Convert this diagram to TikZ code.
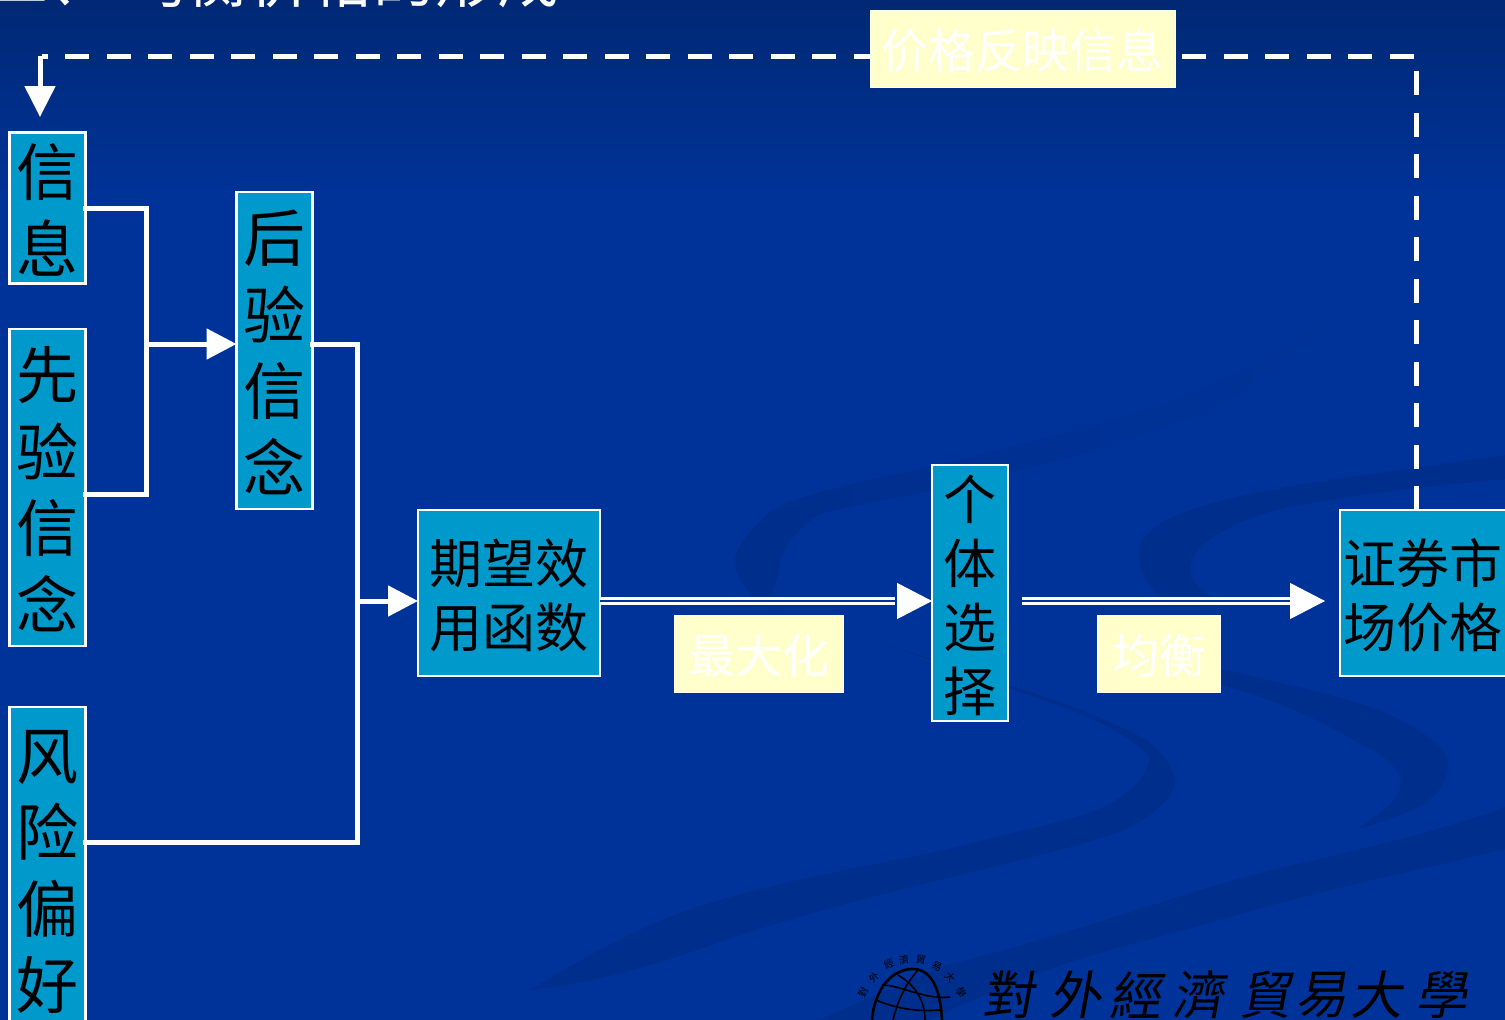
\documentclass[tikz,border=0pt]{standalone}
\usepackage{fontspec}
\setmainfont{Noto Sans CJK SC}
\newfontfamily\tcfont{Noto Sans CJK TC}
\usetikzlibrary{arrows.meta,fadings}
\definecolor{bgtop}{HTML}{002874}
\definecolor{bgmid}{HTML}{003399}
\definecolor{swoosh}{HTML}{002E8C}
\definecolor{boxblue}{HTML}{0099CC}
\definecolor{cream}{HTML}{FFFFCC}
\tikzset{
  box/.style={draw=white,line width=2.6pt,outer sep=0pt,fill=boxblue,text=black,inner sep=0pt,align=center,anchor=north west},
  bigtext/.style={font=\fontsize{62}{76.5}\selectfont,text depth=-7pt},
  midtext/.style={font=\fontsize{53}{64}\selectfont,text depth=-7pt},
  tag/.style={draw=white,line width=1pt,outer sep=0pt,fill=cream,text=white,inner sep=0pt,anchor=north west,font=\fontsize{47}{50}\selectfont,text depth=-7pt},
  link/.style={draw=white,line width=5pt},
  dashlink/.style={draw=white,line width=5pt,dash pattern=on 24pt off 17.5pt},
  head/.style={-{Triangle[length=30pt,width=30pt]}},
  dbl/.style={draw=white,line width=2.7pt,double=bgmid,double distance=2.7pt},
  bighead/.style={draw=white,fill=white,line width=1pt,-{Triangle[length=35pt,width=36pt]}},
  logochar/.style={text=black,inner sep=0pt,font=\tcfont\fontsize{52}{52}\selectfont,xslant=0.18},
  ringchar/.style={text=black,inner sep=0pt,font=\tcfont\fontsize{10}{10}\selectfont}
}
\begin{document}
\begin{tikzpicture}[x=1pt,y=-1pt]
\useasboundingbox (0,0) rectangle (1505,1020);
\clip (0,0) rectangle (1505,1020);
\fill[bgmid] (0,0) rectangle (1505,1020);
\shade[top color=bgtop,bottom color=bgmid] (0,0) rectangle (1505,200);
% background swooshes
\fill[swoosh,path fading=east] (1345,290) .. controls (1290,380) and (1100,425) .. (931,467) .. controls (840,485) and (780,500) .. (767,515) .. controls (745,535) and (730,555) .. (736,570) .. controls (745,590) and (755,600) .. (767,605) .. controls (775,590) and (775,585) .. (780,570) .. controls (780,545) and (800,530) .. (818,515) .. controls (850,505) and (890,500) .. (931,491) .. controls (1110,450) and (1290,410) .. (1345,290) -- cycle;
\fill[swoosh] (1505,455) .. controls (1400,470) and (1320,480) .. (1265,491) .. controls (1220,500) and (1185,510) .. (1162,522) .. controls (1145,535) and (1135,545) .. (1139,558) .. controls (1140,575) and (1150,590) .. (1165,600) -- (1213,598) .. controls (1195,585) and (1185,575) .. (1193,558) .. controls (1205,535) and (1250,515) .. (1290,507) .. controls (1380,490) and (1450,485) .. (1505,479) -- cycle;
\fill[swoosh] (1221,669) .. controls (1290,685) and (1360,700) .. (1393,716) .. controls (1430,735) and (1450,750) .. (1448,768) .. controls (1445,790) and (1430,800) .. (1419,807) .. controls (1400,815) and (1375,825) .. (1357,829) .. controls (1385,810) and (1400,800) .. (1401,783) .. controls (1400,770) and (1385,755) .. (1367,748) .. controls (1330,725) and (1280,700) .. (1221,685) -- cycle;
\fill[swoosh] (844,633) .. controls (900,650) and (960,665) .. (1008,685) .. controls (1060,700) and (1120,725) .. (1147,740) .. controls (1165,755) and (1175,770) .. (1175,783) .. controls (1170,805) and (1140,825) .. (1111,835) .. controls (1000,870) and (850,895) .. (700,949) .. controls (640,970) and (580,985) .. (530,990) .. controls (580,960) and (640,925) .. (700,906) .. controls (800,875) and (880,865) .. (957,847) .. controls (1020,830) and (1080,820) .. (1111,803) .. controls (1135,790) and (1150,770) .. (1149,756) .. controls (1120,725) and (1060,705) .. (1008,688) .. controls (950,665) and (900,650) .. (844,633) -- cycle;
\fill[swoosh] (1505,807) .. controls (1400,845) and (1300,860) .. (1213,886) .. controls (1120,915) and (1030,945) .. (946,965) .. controls (900,985) and (860,1000) .. (820,1020) -- (930,1020) .. controls (960,1005) and (985,995) .. (1008,985) .. controls (1080,955) and (1150,940) .. (1213,922) .. controls (1320,890) and (1420,870) .. (1505,849) -- cycle;
% title (cropped by the top edge, as in the reference)
\node[text=white,inner sep=0pt,anchor=base west,font=\fontsize{62}{62}\selectfont] (title) at (-14,2) {二、\hspace{15pt}均衡价格的形成};
% nodes
\node[box,bigtext,minimum width=76pt,minimum height=151pt] (xinxi) at (9.5,132.5) {信\\息};
\node[box,bigtext,minimum width=76pt,minimum height=317pt] (xianyan) at (9.5,329) {先\\验\\信\\念};
\node[box,bigtext,minimum width=76pt,minimum height=317pt] (houyan) at (236.5,192) {后\\验\\信\\念};
\node[box,bigtext,minimum width=76pt,minimum height=325pt] (fengxian) at (9.5,707) {风\\险\\偏\\好};
\node[box,midtext,minimum width=182pt,minimum height=166pt] (qiwang) at (418,510) {期望效\\用函数};
\node[box,midtext,minimum width=76pt,minimum height=256pt] (geti) at (932,465) {个\\体\\选\\择};
\node[box,midtext,minimum width=166pt,minimum height=166pt] (shichang) at (1340,510) {证券市\\场价格};
\node[tag,minimum width=305pt,minimum height=77pt] (fanying) at (870,10.5) {价格反映信息};
\node[tag,minimum width=169pt,minimum height=77pt] (zuida) at (674,615) {最大化};
\node[tag,minimum width=123pt,minimum height=77pt] (junheng) at (1097.5,615) {均衡};
% junctions
\coordinate (j1) at (146,344);
\coordinate (j2) at (357,601);
\coordinate (d0) at (1416,510);
\coordinate (tr) at (1416,56);
\coordinate (tl) at (42,56);
\coordinate (al) at (40,56);
\coordinate (ta) at (40,117);
\coordinate (e0) at (895,601);
\coordinate (e1) at (1022,601);
\coordinate (e2) at (1290,601);
\coordinate (e3) at (1325,601);
% connectors
\draw[link,shorten <=-3pt,shorten >=-3pt] (xinxi.east |- 0,208) -- (146,208) -- (146,494) -- (xianyan.east |- 0,494);
\draw[link,head] (j1) -- (houyan.west |- j1);
\draw[link,shorten <=-3pt,shorten >=-3pt] (houyan.east |- j1) -- (357,344) -- (357,842) -- (fengxian.east |- 0,842);
\draw[link,head] (j2) -- (qiwang.west |- j2);
\draw[dbl] (qiwang.east |- j2) -- (e0);
\draw[bighead] (e0 -| 897,0) -- (geti.west |- j2);
\draw[dbl] (e1) -- (e2);
\draw[bighead] (e2) -- (e3);
\draw[dashlink] (d0) -- (tr) -- (fanying.east |- tr);
\draw[dashlink,dash phase=7.5pt] (fanying.west |- tl) -- (tl);
\draw[draw=white,line width=5pt,-{Triangle[length=31pt,width=30pt]}] (al) -- (ta);
% logo: globe
\begin{scope}[draw=black,line width=1.6pt]
\draw[line width=2.6pt] (872,1020) .. controls (875,985) and (895,969) .. (912,969) .. controls (930,969) and (940,985) .. (942,1020);
\draw (882,985) .. controls (900,985) and (925,1000) .. (950,997);
\draw (893,1020) .. controls (898,1000) and (905,985) .. (918,970);
\draw (925,1020) .. controls (925,1000) and (915,985) .. (898,975);
\draw (876,1000) .. controls (895,1008) and (915,1012) .. (940,1010);
\end{scope}
\node[ringchar,rotate=62] (r1) at (863,992) {對};
\node[ringchar,rotate=45] (r2) at (874,977) {外};
\node[ringchar,rotate=25] (r3) at (889,964) {經};
\node[ringchar,rotate=8] (r4) at (904,960) {濟};
\node[ringchar,rotate=-10] (r5) at (921,960) {貿};
\node[ringchar,rotate=-25] (r6) at (937,966) {易};
\node[ringchar,rotate=-45] (r7) at (950,977) {大};
\node[ringchar,rotate=-65] (r8) at (961,992) {學};
\node[logochar] (l1) at (1012,995) {對};
\node[logochar] (l2) at (1079,995) {外};
\node[logochar] (l3) at (1139,995) {經};
\node[logochar] (l4) at (1202,995) {濟};
\node[logochar] (l5) at (1269,995) {貿};
\node[logochar] (l6) at (1325,995) {易};
\node[logochar] (l7) at (1380,995) {大};
\node[logochar] (l8) at (1445,995) {學};
\end{tikzpicture}
\end{document}
